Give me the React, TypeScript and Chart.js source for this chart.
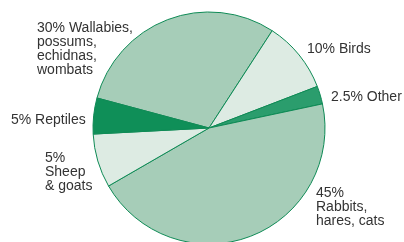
import React, { useEffect, useRef } from "react";
import { Chart, registerables } from "chart.js";

Chart.register(...registerables);

const categories = ["Wallabies, possums, echidnas, wombats", "Birds", "Other", "Rabbits, hares, cats", "Sheep & goats", "Reptiles"];
const values = [30, 10, 2.5, 45, 7.5, 5];
const labelLines = [
  ["30% Wallabies,", "possums,", "echidnas,", "wombats"],
  ["10% Birds"],
  ["2.5% Other"],
  ["45%", "Rabbits,", "hares, cats"],
  ["5%", "Sheep", "& goats"],
  ["5% Reptiles"],
];
const labelAnchor = [
  [37, 28],
  [307, 49],
  [331, 97],
  [316, 193],
  [45, 158],
  [11, 120],
];
const colors = ["#a6cdb8", "#ddebe3", "#2b9d6d", "#a6cdb8", "#ddebe3", "#0f8f58"];

const labelPlugin = {
  id: "outsideLabels",
  afterDraw(chart: any) {
    const ctx = chart.ctx;
    ctx.save();
    ctx.fillStyle = "#333333";
    ctx.font = "14px 'Liberation Sans', Arial, sans-serif";
    ctx.textBaseline = "middle";
    ctx.textAlign = "left";
    labelLines.forEach((lines, i) => {
      const [x, y] = labelAnchor[i];
      lines.forEach((t, j) => ctx.fillText(t, x, y + j * 14.2));
    });
    ctx.restore();
  },
};

export default function App() {
  const ref = useRef<HTMLCanvasElement>(null);
  useEffect(() => {
    const chart = new Chart(ref.current!, {
      type: "pie",
      data: {
        labels: categories,
        datasets: [
          {
            data: values,
            backgroundColor: colors,
            borderColor: "#0e8a55",
            borderWidth: 1,
          },
        ],
      },
      options: {
        responsive: false,
        animation: false,
        rotation: -75,
        layout: { padding: { left: 92.5, right: 78.5, top: 11.5, bottom: 15.5 } },
        plugins: { legend: { display: false }, tooltip: { enabled: false } },
      },
      plugins: [labelPlugin],
    });
    return () => chart.destroy();
  }, []);
  return (
    <div style={{ position: "fixed", left: 0, top: 0, width: 404, height: 242, overflow: "hidden", background: "#fff" }}>
      <canvas ref={ref} width={404} height={260} style={{ display: "block" }} />
    </div>
  );
}
